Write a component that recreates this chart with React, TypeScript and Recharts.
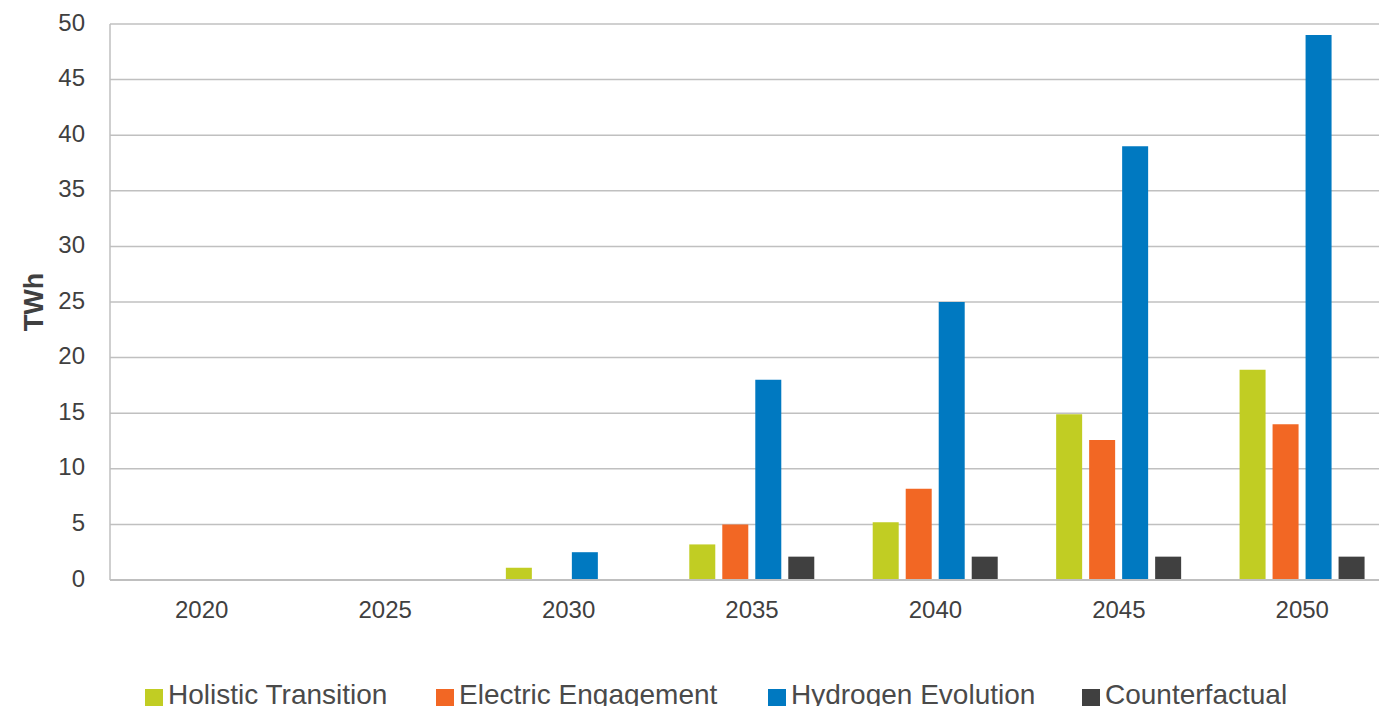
import React from 'react';
import { BarChart, Bar, XAxis, YAxis, CartesianGrid, Legend } from 'recharts';

const years = ['2020', '2025', '2030', '2035', '2040', '2045', '2050'];
const holisticTransition = [0, 0, 1.1, 3.2, 5.2, 14.9, 18.9];
const electricEngagement = [0, 0, 0.05, 5.0, 8.2, 12.6, 14.0];
const hydrogenEvolution = [0, 0, 2.5, 18.0, 25.0, 39.0, 49.0];
const counterfactual = [0, 0, 0, 2.1, 2.1, 2.1, 2.1];
const yTicks = [0, 5, 10, 15, 20, 25, 30, 35, 40, 45, 50];

const seriesNames = ['Holistic Transition', 'Electric Engagement', 'Hydrogen Evolution', 'Counterfactual'];
const seriesKeys = ['ht', 'ee', 'he', 'cf'];
const seriesColors = ['#C1CD23', '#F26724', '#0079C1', '#404040'];
const legendItemWidths = [291, 332, 314, 260];

const data = years.map((y, i) => ({
  year: y,
  ht: holisticTransition[i],
  ee: electricEngagement[i],
  he: hydrogenEvolution[i],
  cf: counterfactual[i],
}));

const FONT = '"Liberation Sans", Arial, sans-serif';

const LegendContent = () => (
  <div
    style={{
      display: 'flex',
      height: 32,
      lineHeight: '32px',
      paddingLeft: 145,
      fontFamily: FONT,
      fontSize: 28,
      color: '#4a4a4a',
      whiteSpace: 'nowrap',
    }}
  >
    {seriesNames.map((n, i) => (
      <div key={n} style={{ display: 'flex', alignItems: 'center', width: legendItemWidths[i], flex: 'none' }}>
        <span
          style={{
            display: 'inline-block',
            width: 18,
            height: 19,
            background: seriesColors[i],
            marginRight: 5,
            marginTop: 7,
            flex: 'none',
          }}
        />
        <span>{n}</span>
      </div>
    ))}
  </div>
);

const YLabel = (props: any) => {
  const vb = props.viewBox || {};
  const cx = 34;
  const cy = vb.y + vb.height / 2;
  return (
    <text
      x={cx}
      y={cy}
      transform={`rotate(-90, ${cx}, ${cy})`}
      textAnchor="middle"
      dominantBaseline="central"
      fontFamily={FONT}
      fontSize={27}
      fontWeight="bold"
      fill="#404040"
    >
      TWh
    </text>
  );
};

export default function App() {
  return (
    <div style={{ position: 'absolute', left: 0, top: 0, width: 1379, height: 706, overflow: 'hidden', background: '#fff' }}>
      <BarChart
        width={1394}
        height={706}
        data={data}
        margin={{ top: 24, right: 0, left: 0, bottom: 0 }}
        barSize={26}
        barGap={7}
      >
        <CartesianGrid vertical={false} stroke="#c0c0c0" strokeWidth={1.5} />
        <XAxis
          dataKey="year"
          height={94}
          tickLine={false}
          tickSize={0}
          tickMargin={21}
          axisLine={{ stroke: '#bfbfbf', strokeWidth: 2 }}
          tick={{ fontSize: 24, fill: '#404040', fontFamily: FONT }}
        />
        <YAxis
          width={110}
          domain={[0, 50]}
          ticks={yTicks}
          interval={0}
          tickLine={false}
          tickSize={0}
          tickMargin={25}
          axisLine={{ stroke: '#bfbfbf', strokeWidth: 1.5 }}
          tick={{ fontSize: 24, fill: '#404040', fontFamily: FONT, dy: -2 }}
          label={<YLabel />}
        />
        <Legend verticalAlign="bottom" content={<LegendContent />} wrapperStyle={{ top: 679, left: 0, bottom: 'auto', width: 1394 }} />
        {seriesKeys.map((k, i) => (
          <Bar key={k} dataKey={k} name={seriesNames[i]} fill={seriesColors[i]} isAnimationActive={false} />
        ))}
      </BarChart>
    </div>
  );
}
